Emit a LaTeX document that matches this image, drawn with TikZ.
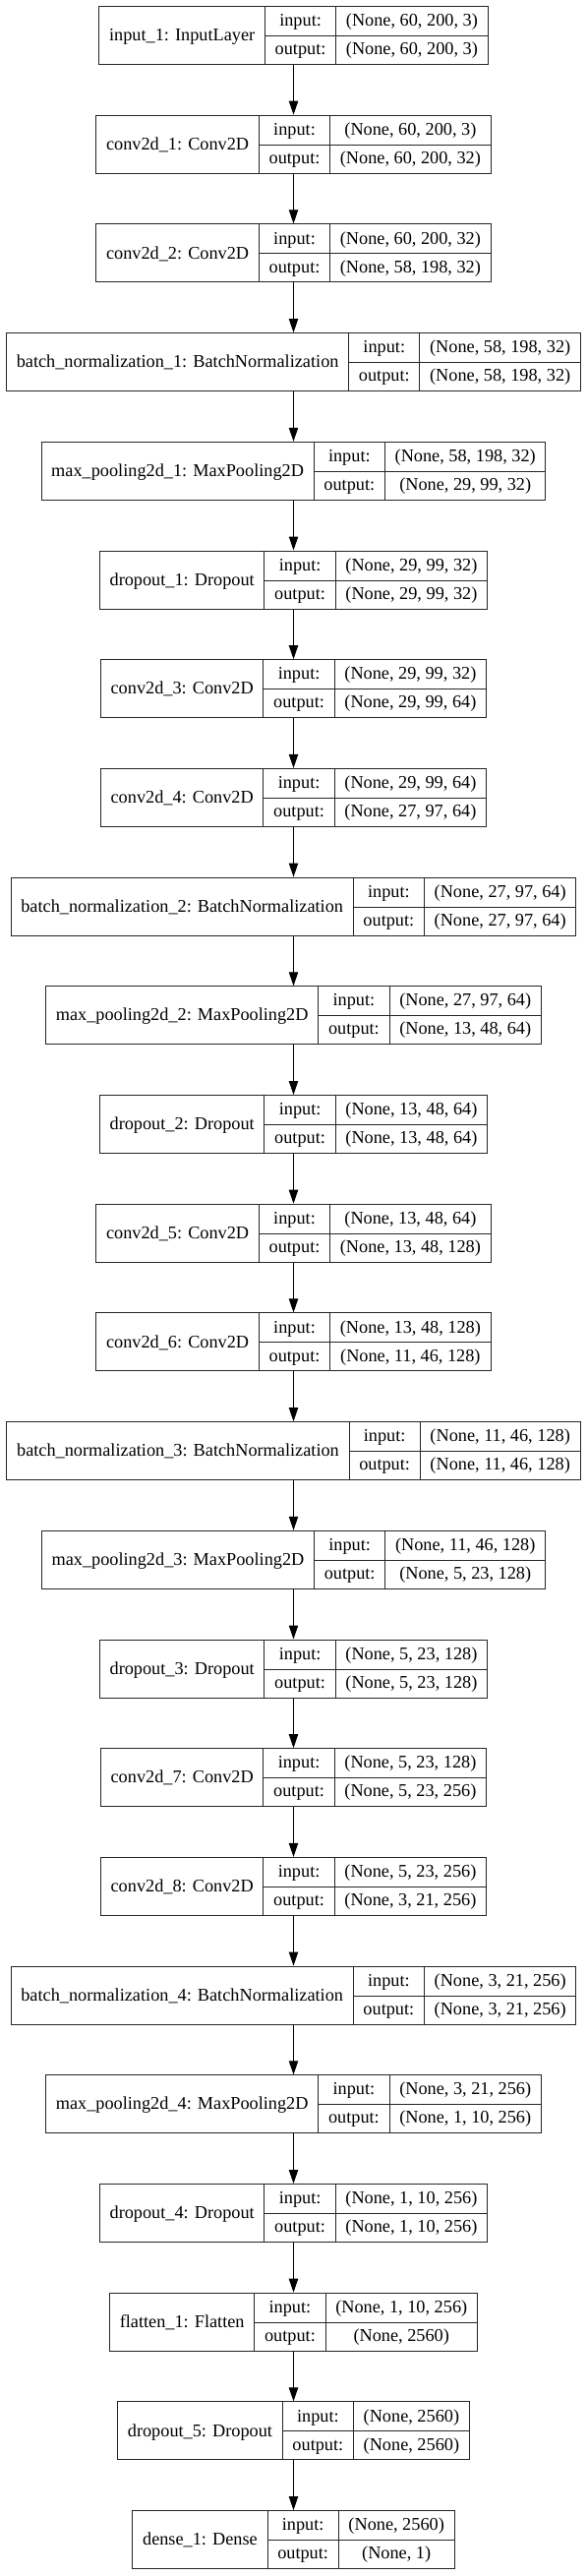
\documentclass[tikz,border=0pt]{standalone}
\usepackage{fontspec}
\setmainfont{Liberation Serif}
\usepackage{colortbl}
\usetikzlibrary{arrows.meta}
\setlength{\arrayrulewidth}{0.75pt}
\setlength{\tabcolsep}{7.3pt}
\newcommand{\rowstrut}{\rule[-7pt]{0pt}{21.75pt}}
% one record: name | input/output | shapes
\newcommand{\layerrec}[3]{%
  \arrayrulecolor{black!85}%
  \begin{tabular}{|c|c|c|}\hline
    \smash{\raisebox{-11.25pt}{#1}}\rowstrut & input: & #2\\ \cline{2-3}
    \rowstrut & output: & #3\\ \hline
  \end{tabular}}
\tikzset{netbox/.style={inner sep=0pt, outer sep=0pt, anchor=north}}
\begin{document}
\begin{tikzpicture}[x=0.75pt, y=-0.75pt, >={Triangle[length=10.5pt,width=7pt]}, font=\fontsize{13.7pt}{16pt}\selectfont, line width=0.75pt]
  \useasboundingbox (0,0) rectangle (597,2619);
  \node[netbox] (in1) at (298.5,6) {\layerrec{input\_1: InputLayer}{(None, 60, 200, 3)}{(None, 60, 200, 3)}};
  \node[netbox] (cv1) at (298.5,116.7) {\layerrec{conv2d\_1: Conv2D}{(None, 60, 200, 3)}{(None, 60, 200, 32)}};
  \node[netbox] (cv2) at (298.5,227.4) {\layerrec{conv2d\_2: Conv2D}{(None, 60, 200, 32)}{(None, 58, 198, 32)}};
  \node[netbox] (bn1) at (298.5,338.1) {\layerrec{batch\_normalization\_1: BatchNormalization}{(None, 58, 198, 32)}{(None, 58, 198, 32)}};
  \node[netbox] (mp1) at (298.5,448.8) {\layerrec{max\_pooling2d\_1: MaxPooling2D}{(None, 58, 198, 32)}{(None, 29, 99, 32)}};
  \node[netbox] (dp1) at (298.5,559.5) {\layerrec{dropout\_1: Dropout}{(None, 29, 99, 32)}{(None, 29, 99, 32)}};
  \node[netbox] (cv3) at (298.5,670.2) {\layerrec{conv2d\_3: Conv2D}{(None, 29, 99, 32)}{(None, 29, 99, 64)}};
  \node[netbox] (cv4) at (298.5,780.9) {\layerrec{conv2d\_4: Conv2D}{(None, 29, 99, 64)}{(None, 27, 97, 64)}};
  \node[netbox] (bn2) at (298.5,891.6) {\layerrec{batch\_normalization\_2: BatchNormalization}{(None, 27, 97, 64)}{(None, 27, 97, 64)}};
  \node[netbox] (mp2) at (298.5,1002.3) {\layerrec{max\_pooling2d\_2: MaxPooling2D}{(None, 27, 97, 64)}{(None, 13, 48, 64)}};
  \node[netbox] (dp2) at (298.5,1113) {\layerrec{dropout\_2: Dropout}{(None, 13, 48, 64)}{(None, 13, 48, 64)}};
  \node[netbox] (cv5) at (298.5,1223.7) {\layerrec{conv2d\_5: Conv2D}{(None, 13, 48, 64)}{(None, 13, 48, 128)}};
  \node[netbox] (cv6) at (298.5,1334.4) {\layerrec{conv2d\_6: Conv2D}{(None, 13, 48, 128)}{(None, 11, 46, 128)}};
  \node[netbox] (bn3) at (298.5,1445.1) {\layerrec{batch\_normalization\_3: BatchNormalization}{(None, 11, 46, 128)}{(None, 11, 46, 128)}};
  \node[netbox] (mp3) at (298.5,1555.8) {\layerrec{max\_pooling2d\_3: MaxPooling2D}{(None, 11, 46, 128)}{(None, 5, 23, 128)}};
  \node[netbox] (dp3) at (298.5,1666.5) {\layerrec{dropout\_3: Dropout}{(None, 5, 23, 128)}{(None, 5, 23, 128)}};
  \node[netbox] (cv7) at (298.5,1777.2) {\layerrec{conv2d\_7: Conv2D}{(None, 5, 23, 128)}{(None, 5, 23, 256)}};
  \node[netbox] (cv8) at (298.5,1887.9) {\layerrec{conv2d\_8: Conv2D}{(None, 5, 23, 256)}{(None, 3, 21, 256)}};
  \node[netbox] (bn4) at (298.5,1998.6) {\layerrec{batch\_normalization\_4: BatchNormalization}{(None, 3, 21, 256)}{(None, 3, 21, 256)}};
  \node[netbox] (mp4) at (298.5,2109.3) {\layerrec{max\_pooling2d\_4: MaxPooling2D}{(None, 3, 21, 256)}{(None, 1, 10, 256)}};
  \node[netbox] (dp4) at (298.5,2220) {\layerrec{dropout\_4: Dropout}{(None, 1, 10, 256)}{(None, 1, 10, 256)}};
  \node[netbox] (fl1) at (298.5,2330.7) {\layerrec{flatten\_1: Flatten}{(None, 1, 10, 256)}{(None, 2560)}};
  \node[netbox] (dp5) at (298.5,2441.4) {\layerrec{dropout\_5: Dropout}{(None, 2560)}{(None, 2560)}};
  \node[netbox] (de1) at (298.5,2552.1) {\layerrec{dense\_1: Dense}{(None, 2560)}{(None, 1)}};
  \foreach \a/\b in {in1/cv1, cv1/cv2, cv2/bn1, bn1/mp1, mp1/dp1, dp1/cv3, cv3/cv4, cv4/bn2,
      bn2/mp2, mp2/dp2, dp2/cv5, cv5/cv6, cv6/bn3, bn3/mp3, mp3/dp3, dp3/cv7, cv7/cv8,
      cv8/bn4, bn4/mp4, mp4/dp4, dp4/fl1, fl1/dp5, dp5/de1}
    \draw[->] (\a)--(\b);
\end{tikzpicture}
\end{document}
